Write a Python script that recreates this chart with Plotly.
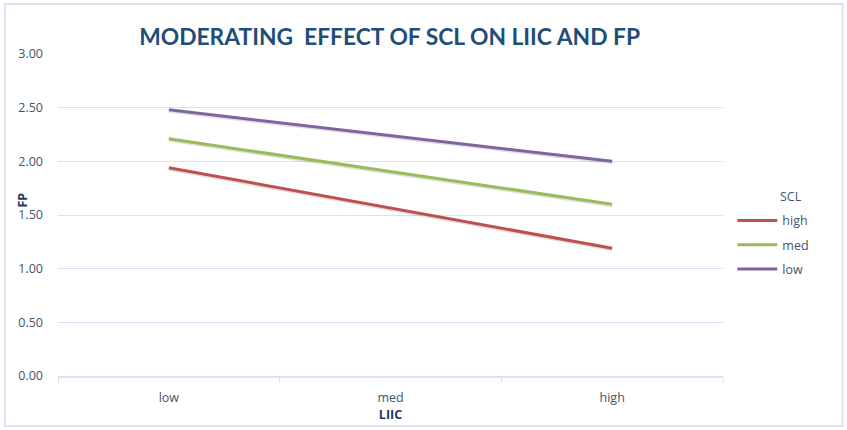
import plotly.graph_objects as go

categories = ["low", "med", "high"]
series_names = ["high", "med", "low"]
high_vals = [1.94, 1.565, 1.19]
med_vals = [2.21, 1.905, 1.60]
low_vals = [2.48, 2.24, 2.00]
colors = ["#C0504D", "#9BBB59", "#8064A2"]
y_ticks = [0, 0.5, 1.0, 1.5, 2.0, 2.5, 3.0]
y_tick_labels = ["0.00", "0.50", "1.00", "1.50", "2.00", "2.50", "3.00"]

fig = go.Figure()
for name, vals, col in zip(series_names, [high_vals, med_vals, low_vals], colors):
    # subtle shadow
    fig.add_trace(go.Scatter(x=categories, y=[v - 0.012 for v in vals], mode="lines",
                             line=dict(color="rgba(0,0,0,0.12)", width=3.5),
                             showlegend=False, hoverinfo="skip"))
for name, vals, col in zip(series_names, [high_vals, med_vals, low_vals], colors):
    fig.add_trace(go.Scatter(x=categories, y=vals, mode="lines", name=name,
                             legendgroup=name,
                             line=dict(color=col, width=3)))

fig.update_layout(
    width=847, height=430,
    margin=dict(l=58, r=124, t=54, b=54),
    paper_bgcolor="white", plot_bgcolor="white",
    font=dict(family="Open Sans", color="#44546A", size=12),
    title=dict(text="<b>MODERATING  EFFECT OF SCL ON LIIC AND FP</b>",
               x=0.46, xanchor="center", y=0.915, yanchor="middle",
               font=dict(family="Lato", size=22.8, color="#1F4E79")),
    showlegend=True,
    legend=dict(x=1.014, xanchor="left", y=0.407, yanchor="middle",
                font=dict(size=12.5, color="#44546A"), tracegroupgap=5,
                itemwidth=40,
                bgcolor="rgba(0,0,0,0)"),
    xaxis=dict(type="category", categoryorder="array", categoryarray=categories,
               showgrid=False, showline=True, linecolor="#D9E1F2", linewidth=1.5,
               ticks="outside", tickson="boundaries", ticklen=5, tickcolor="#D9E1F2",
               ticklabelstandoff=9, automargin=False,
               tickfont=dict(size=12.5, color="#44546A"),
               title=dict(text="<b>LIIC</b>", standoff=0,
                          font=dict(size=12.5, color="#1F3864")),
               range=[-0.5, 2.5]),
    yaxis=dict(range=[0, 3.0], tickvals=y_ticks, ticktext=y_tick_labels,
               showgrid=True, gridcolor="#D9E1F2", gridwidth=1.2, zeroline=False,
               showline=False, ticks="", ticklabelstandoff=14, automargin=False,
               tickfont=dict(size=12.5, color="#44546A")),
)
fig.add_annotation(text="<b>FP</b>", xref="paper", yref="paper", x=-0.054, y=0.545,
                   textangle=-90, showarrow=False, xanchor="center", yanchor="middle",
                   font=dict(size=12.5, color="#1F3864"))
fig.add_annotation(text="SCL", xref="paper", yref="paper", x=1.083, y=0.558,
                   showarrow=False, xanchor="left", yanchor="middle",
                   font=dict(size=12.5, color="#44546A"))
fig.add_shape(type="rect", xref="paper", yref="paper",
              x0=-0.08, x1=1.18, y0=-0.155, y1=1.155,
              line=dict(color="#DDE3F0", width=2), layer="below")
fig.write_html("out.html")
